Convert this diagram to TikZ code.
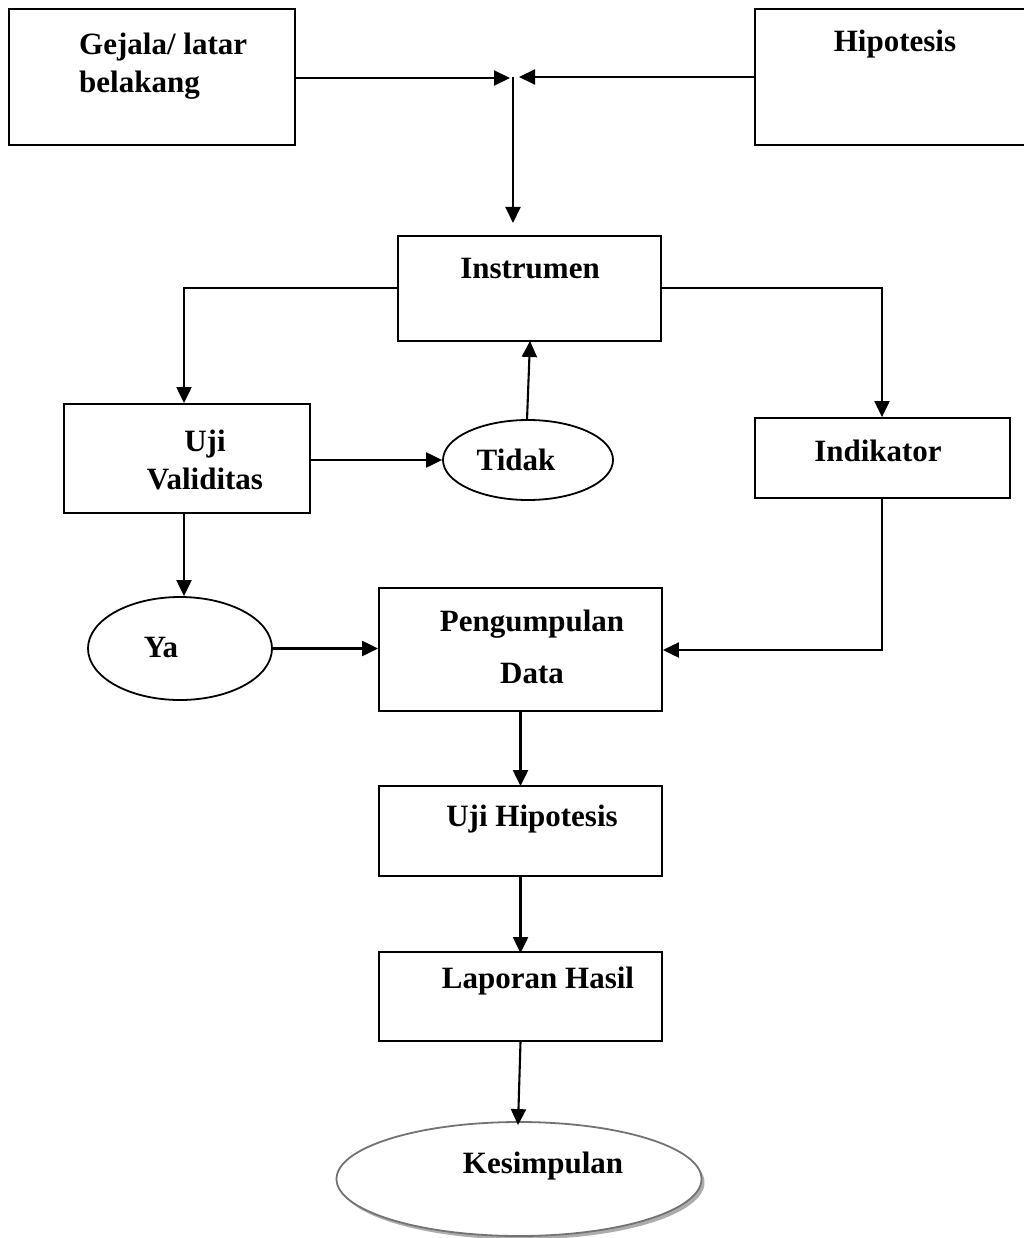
\documentclass[tikz,border=0pt]{standalone}
\usepackage{fontspec}
\setmainfont{Liberation Serif}
\usetikzlibrary{arrows.meta,shapes.geometric,shadows}
\tikzset{
  box/.style={draw=black,line width=1.8pt,rectangle,inner sep=0pt},
  oval/.style={draw=black,line width=1.8pt,ellipse,inner sep=0pt},
  lbl/.style={inner sep=0pt,font=\fontsize{31}{38}\selectfont\bfseries},
  arr/.style={line width=2.1pt,-{Triangle[length=16pt,width=15pt]}},
  ln/.style={line width=2.1pt}
}
\begin{document}
\begin{tikzpicture}[x=1pt,y=-1pt]
\useasboundingbox[fill=white] (0,0) rectangle (1024,1238);
% boxes
\node[box,minimum width=286,minimum height=136] (gej) at (152,77) {};
\node[box,minimum width=280,minimum height=136] (hip) at (895,77) {};
\node[box,minimum width=263,minimum height=105] (ins) at (529.5,288.5) {};
\node[box,minimum width=246,minimum height=109] (uji) at (187,458.5) {};
\node[box,minimum width=255,minimum height=80] (ind) at (882.5,458) {};
\node[box,minimum width=283,minimum height=123] (pen) at (520.5,649.5) {};
\node[box,minimum width=283,minimum height=90] (uhp) at (520.5,831) {};
\node[box,minimum width=283,minimum height=89] (lap) at (520.5,996.5) {};
\node[oval,minimum width=170,minimum height=80] (tid) at (528,460) {};
\node[oval,minimum width=184,minimum height=103] (ya) at (180,648.5) {};
\node[oval,draw=black!55,minimum width=365,minimum height=114,
  drop shadow={shadow xshift=3pt,shadow yshift=-3.5pt,fill=black!40,opacity=0.8},fill=white] (kes) at (519,1179) {};
% labels
\node[lbl,align=left,anchor=west] (tgej) at (79,66) {Gejala/ latar\\belakang};
\node[lbl] (thip) at (895,44) {Hipotesis};
\node[lbl] (tins) at (530,269) {Instrumen};
\node[lbl,align=center] (tuji) at (205,460) {Uji\\Validitas};
\node[lbl] (tind) at (878,451) {Indikator};
\node[lbl] (ttid) at (516,460) {Tidak};
\node[lbl] (tya) at (161,647) {Ya};
\node[lbl,align=center] (tpen) at (532,647) {Pengumpulan\\[14pt]Data};
\node[lbl] (tuhp) at (532,819) {Uji Hipotesis};
\node[lbl] (tlap) at (538,981) {Laporan Hasil};
\node[lbl] (tkes) at (543,1166) {Kesimpulan};
% junction coordinates
\coordinate (jl) at (510,78);
\coordinate (jr) at (519,77);
\coordinate (jt) at (513,77);
\coordinate (jb) at (513,223);
\coordinate (c1) at (184,288);
\coordinate (c2) at (882,288);
\coordinate (c3) at (882,650);
\coordinate (tidtop) at (527,420);
\coordinate (instb) at (530,341);
% connectors
\draw[arr] (gej.east |- jl) -- (jl);
\draw[arr] (hip.west |- jr) -- (jr);
\draw[arr] (jt) -- (jb);
\draw[arr] (ins.west |- c1) -- (c1) -- (c1 |- uji.north);
\draw[arr] (ins.east |- c2) -- (c2) -- (c2 |- ind.north);
\draw[arr] (uji.east |- tid.west) -- (tid.west);
\draw[arr] (tidtop) -- (instb);
\draw[arr] (ind.south -| c3) -- (c3) -- (c3 -| pen.east);
\draw[arr] (uji.south -| c1) -- (c1 |- ya.north);
\draw[arr] (ya.east) -- (ya.east -| pen.west);
\draw[arr] (pen.south) -- ([yshift=-1pt]uhp.north);
\draw[arr] (uhp.south) -- ([yshift=-2pt]lap.north);
\draw[arr] (lap.south) -- ([xshift=-1pt,yshift=-4pt]kes.north);
\end{tikzpicture}
\end{document}
